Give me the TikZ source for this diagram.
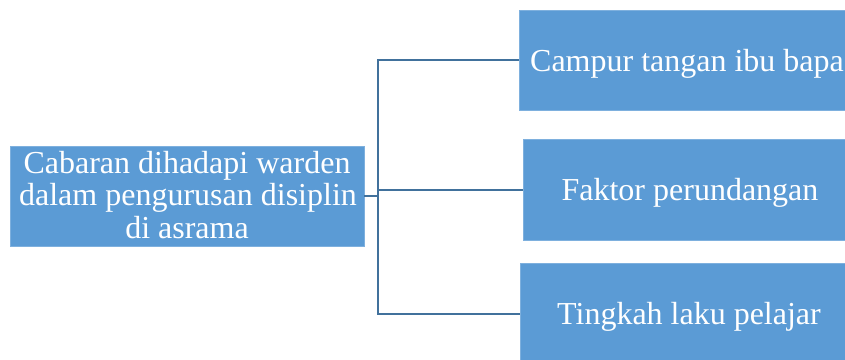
\documentclass[tikz,border=0pt]{standalone}
\usepackage{fontspec}
\setmainfont{Liberation Serif}
\definecolor{boxblue}{HTML}{5B9BD5}
\definecolor{boxedge}{HTML}{7EB0DE}
\definecolor{linkblue}{HTML}{41719C}
\begin{document}
\begin{tikzpicture}[x=0.75pt,y=-0.75pt,
  bluebox/.style={fill=boxblue,draw=boxedge,line width=0.6pt,text=white,inner sep=0pt},
  link/.style={draw=linkblue,line width=2.2pt},
  lbl/.style={text=white,font=\fontsize{24}{26}\selectfont,inner sep=0pt,anchor=base}]
\useasboundingbox (0,0) rectangle (845,360);
% boxes
\path[bluebox] (10,146) rectangle (364,246);
\path[bluebox] (519,10) rectangle (850,110);
\path[bluebox] (523,139) rectangle (850,240);
\path[bluebox] (520,263) rectangle (850,365);
\coordinate (L) at (364,196);
\coordinate (T) at (519,60);
\coordinate (M) at (523,190);
\coordinate (B) at (520,314);
\coordinate (J) at (378,196);
% labels
\node[lbl] (l1) at (187,173) {Cabaran dihadapi warden};
\node[lbl] (l2) at (188,205) {dalam pengurusan disiplin};
\node[lbl] (l3) at (187,238) {di asrama};
\node[lbl] (t1) at (687,72) {Campur tangan ibu bapa};
\node[lbl] (m1) at (690,200) {Faktor perundangan};
\node[lbl] (b1) at (689,324) {Tingkah laku pelajar};
% connectors
\draw[link] (L) -- (J);
\draw[link] (T) -- (378,60) -- (378,314) -- (B);
\draw[link] (378,190) -- (M);
\end{tikzpicture}
\end{document}
